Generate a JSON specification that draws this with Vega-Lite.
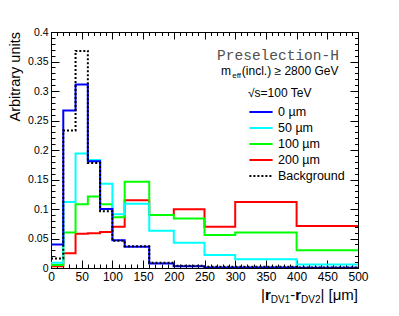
{
  "$schema": "https://vega.github.io/schema/vega-lite/v6.json",
  "width": 307,
  "height": 236,
  "autosize": "none",
  "padding": {"left": 51, "top": 32, "right": 41, "bottom": 48},
  "background": "white",
  "config": {
    "view": {"stroke": "black", "strokeWidth": 1},
    "font": "Liberation Sans",
    "axis": {"grid": false, "domain": false, "title": null, "labelFont": "Liberation Sans", "labelColor": "black", "tickColor": "black", "tickWidth": 1}
  },
  "datasets": {
    "hist": [
      {"s": "200 µm", "x": 0, "v": 0.003}, {"s": "200 µm", "x": 20, "v": 0.025}, {"s": "200 µm", "x": 40, "v": 0.058}, {"s": "200 µm", "x": 60, "v": 0.059},
      {"s": "200 µm", "x": 80, "v": 0.061}, {"s": "200 µm", "x": 100, "v": 0.070}, {"s": "200 µm", "x": 120, "v": 0.115}, {"s": "200 µm", "x": 160, "v": 0.090},
      {"s": "200 µm", "x": 200, "v": 0.0995}, {"s": "200 µm", "x": 250, "v": 0.070}, {"s": "200 µm", "x": 300, "v": 0.112}, {"s": "200 µm", "x": 400, "v": 0.071},
      {"s": "200 µm", "x": 500, "v": 0.071},
      {"s": "100 µm", "x": 0, "v": 0.005}, {"s": "100 µm", "x": 20, "v": 0.060}, {"s": "100 µm", "x": 40, "v": 0.108}, {"s": "100 µm", "x": 60, "v": 0.121},
      {"s": "100 µm", "x": 80, "v": 0.108}, {"s": "100 µm", "x": 100, "v": 0.086}, {"s": "100 µm", "x": 120, "v": 0.146}, {"s": "100 µm", "x": 160, "v": 0.090},
      {"s": "100 µm", "x": 200, "v": 0.084}, {"s": "100 µm", "x": 250, "v": 0.056}, {"s": "100 µm", "x": 300, "v": 0.060}, {"s": "100 µm", "x": 400, "v": 0.030},
      {"s": "100 µm", "x": 500, "v": 0.030},
      {"s": "50 µm", "x": 0, "v": 0.009}, {"s": "50 µm", "x": 20, "v": 0.112}, {"s": "50 µm", "x": 40, "v": 0.194}, {"s": "50 µm", "x": 60, "v": 0.183},
      {"s": "50 µm", "x": 80, "v": 0.143}, {"s": "50 µm", "x": 100, "v": 0.091}, {"s": "50 µm", "x": 120, "v": 0.109}, {"s": "50 µm", "x": 160, "v": 0.063},
      {"s": "50 µm", "x": 200, "v": 0.043}, {"s": "50 µm", "x": 250, "v": 0.022}, {"s": "50 µm", "x": 300, "v": 0.015}, {"s": "50 µm", "x": 400, "v": 0.006},
      {"s": "50 µm", "x": 500, "v": 0.006},
      {"s": "0 µm", "x": 0, "v": 0.040}, {"s": "0 µm", "x": 20, "v": 0.267}, {"s": "0 µm", "x": 40, "v": 0.311}, {"s": "0 µm", "x": 60, "v": 0.181},
      {"s": "0 µm", "x": 80, "v": 0.100}, {"s": "0 µm", "x": 100, "v": 0.047}, {"s": "0 µm", "x": 120, "v": 0.036}, {"s": "0 µm", "x": 160, "v": 0.0075},
      {"s": "0 µm", "x": 200, "v": 0.003}, {"s": "0 µm", "x": 250, "v": 0.001}, {"s": "0 µm", "x": 300, "v": 0.001}, {"s": "0 µm", "x": 400, "v": 0.0005},
      {"s": "0 µm", "x": 500, "v": 0.0005},
      {"s": "Background", "x": 0, "v": 0.016}, {"s": "Background", "x": 20, "v": 0.233}, {"s": "Background", "x": 40, "v": 0.368}, {"s": "Background", "x": 60, "v": 0.178},
      {"s": "Background", "x": 80, "v": 0.096}, {"s": "Background", "x": 100, "v": 0.046}, {"s": "Background", "x": 120, "v": 0.037}, {"s": "Background", "x": 160, "v": 0.009},
      {"s": "Background", "x": 200, "v": 0.004}, {"s": "Background", "x": 250, "v": 0.002}, {"s": "Background", "x": 300, "v": 0.002}, {"s": "Background", "x": 400, "v": 0.001},
      {"s": "Background", "x": 500, "v": 0.001}
    ]
  },
  "resolve": {"axis": {"x": "independent", "y": "independent"}},
  "layer": [
    {
      "data": {"name": "hist"},
      "mark": {"type": "line", "interpolate": "step-after", "strokeWidth": 2, "clip": true},
      "encoding": {
        "x": {"field": "x", "type": "quantitative", "scale": {"domain": [0, 500], "nice": false, "zero": false},
          "axis": {"orient": "bottom", "values": [0, 50, 100, 150, 200, 250, 300, 350, 400, 450, 500], "ticks": false, "labelFontSize": 12, "labelPadding": 3, "labelFlush": false}},
        "y": {"field": "v", "type": "quantitative", "scale": {"domain": [0, 0.4], "nice": false, "zero": false},
          "axis": {"orient": "left", "values": [0, 0.05, 0.1, 0.15, 0.2, 0.25, 0.3, 0.35, 0.4], "format": ".2~f", "ticks": false, "labelFontSize": 10.5, "labelPadding": 3, "labelFlush": false}},
        "color": {"field": "s", "type": "nominal",
          "scale": {"domain": ["0 µm", "50 µm", "100 µm", "200 µm", "Background"], "range": ["#0000ff", "#00ffff", "#00ff00", "#ff0000", "#000000"]},
          "legend": {"orient": "none", "legendX": 201, "legendY": 71, "title": null, "symbolType": "M-1.45,0H1.45", "symbolSize": 256, "symbolStrokeWidth": 2, "labelFontSize": 12.5, "labelFont": "Liberation Sans", "labelOffset": 8, "rowPadding": 0, "labelColor": "black"}},
        "strokeDash": {"field": "s", "type": "nominal",
          "scale": {"domain": ["0 µm", "50 µm", "100 µm", "200 µm", "Background"], "range": [[1, 0], [1, 0], [1, 0], [1, 0], [2, 2]]},
          "legend": {"orient": "none", "legendX": 201, "legendY": 71, "title": null, "symbolType": "M-1.45,0H1.45", "symbolSize": 256, "symbolStrokeWidth": 2, "labelFontSize": 12.5, "labelFont": "Liberation Sans", "labelOffset": 8, "rowPadding": 0, "labelColor": "black"}}
      }
    },
    {
      "data": {"values": [{}]},
      "mark": {"type": "point", "opacity": 0},
      "encoding": {
        "x": {"datum": 0, "type": "quantitative", "scale": {"domain": [0, 500], "nice": false, "zero": false},
          "axis": {"orient": "bottom", "values": [0, 50, 100, 150, 200, 250, 300, 350, 400, 450, 500], "labels": false, "tickSize": -8}},
        "y": {"datum": 0, "type": "quantitative", "scale": {"domain": [0, 0.4], "nice": false, "zero": false},
          "axis": {"orient": "left", "values": [0, 0.05, 0.1, 0.15, 0.2, 0.25, 0.3, 0.35, 0.4], "labels": false, "tickSize": -8}}
      }
    },
    {
      "data": {"values": [{}]},
      "mark": {"type": "point", "opacity": 0},
      "encoding": {
        "x": {"datum": 0, "type": "quantitative", "scale": {"domain": [0, 500], "nice": false, "zero": false},
          "axis": {"orient": "bottom", "values": [0,10,20,30,40,50,60,70,80,90,100,110,120,130,140,150,160,170,180,190,200,210,220,230,240,250,260,270,280,290,300,310,320,330,340,350,360,370,380,390,400,410,420,430,440,450,460,470,480,490,500], "labels": false, "tickSize": -4}},
        "y": {"datum": 0, "type": "quantitative", "scale": {"domain": [0, 0.4], "nice": false, "zero": false},
          "axis": {"orient": "left", "values": [0,0.01,0.02,0.03,0.04,0.05,0.06,0.07,0.08,0.09,0.1,0.11,0.12,0.13,0.14,0.15,0.16,0.17,0.18,0.19,0.2,0.21,0.22,0.23,0.24,0.25,0.26,0.27,0.28,0.29,0.3,0.31,0.32,0.33,0.34,0.35,0.36,0.37,0.38,0.39,0.4], "labels": false, "tickSize": -4}}
      }
    },
    {
      "data": {"values": [{}]},
      "mark": {"type": "point", "opacity": 0},
      "encoding": {
        "x": {"datum": 0, "type": "quantitative", "scale": {"domain": [0, 500], "nice": false, "zero": false},
          "axis": {"orient": "top", "values": [0, 50, 100, 150, 200, 250, 300, 350, 400, 450, 500], "labels": false, "tickSize": -7}},
        "y": {"datum": 0, "type": "quantitative", "scale": {"domain": [0, 0.4], "nice": false, "zero": false},
          "axis": {"orient": "right", "values": [0, 0.05, 0.1, 0.15, 0.2, 0.25, 0.3, 0.35, 0.4], "labels": false, "tickSize": -8}}
      }
    },
    {
      "data": {"values": [{}]},
      "mark": {"type": "point", "opacity": 0},
      "encoding": {
        "x": {"datum": 0, "type": "quantitative", "scale": {"domain": [0, 500], "nice": false, "zero": false},
          "axis": {"orient": "top", "values": [0,10,20,30,40,50,60,70,80,90,100,110,120,130,140,150,160,170,180,190,200,210,220,230,240,250,260,270,280,290,300,310,320,330,340,350,360,370,380,390,400,410,420,430,440,450,460,470,480,490,500], "labels": false, "tickSize": -3.5}},
        "y": {"datum": 0, "type": "quantitative", "scale": {"domain": [0, 0.4], "nice": false, "zero": false},
          "axis": {"orient": "right", "values": [0,0.01,0.02,0.03,0.04,0.05,0.06,0.07,0.08,0.09,0.1,0.11,0.12,0.13,0.14,0.15,0.16,0.17,0.18,0.19,0.2,0.21,0.22,0.23,0.24,0.25,0.26,0.27,0.28,0.29,0.3,0.31,0.32,0.33,0.34,0.35,0.36,0.37,0.38,0.39,0.4], "labels": false, "tickSize": -3.5}}
      }
    },
    {
      "data": {"values": [{}]},
      "mark": {"type": "text", "text": "Arbitrary units", "angle": 270, "align": "right", "baseline": "alphabetic", "fontSize": 14.5, "font": "Liberation Sans", "dx": 0, "dy": -31},
      "encoding": {"x": {"datum": 0, "type": "quantitative", "axis": null}, "y": {"datum": 0.4, "type": "quantitative", "axis": null}}
    },
    {
      "data": {"values": [{}]},
      "mark": {"type": "text", "text": "Preselection-H", "align": "center", "baseline": "alphabetic", "fontSize": 14.5, "font": "Liberation Mono", "color": "#505050"},
      "encoding": {"x": {"datum": 369.7, "type": "quantitative", "axis": null}, "y": {"datum": 0.3517, "type": "quantitative", "axis": null}}
    },
    {
      "data": {"values": [{}]},
      "mark": {"type": "text", "text": "m", "align": "left", "baseline": "alphabetic", "fontSize": 12, "font": "Liberation Sans"},
      "encoding": {"x": {"datum": 276.9, "type": "quantitative", "axis": null}, "y": {"datum": 0.3271, "type": "quantitative", "axis": null}}
    },
    {
      "data": {"values": [{}]},
      "mark": {"type": "text", "text": "eff", "align": "left", "baseline": "alphabetic", "fontSize": 8, "font": "Liberation Sans", "dx": 11.2, "dy": 3},
      "encoding": {"x": {"datum": 276.9, "type": "quantitative", "axis": null}, "y": {"datum": 0.3271, "type": "quantitative", "axis": null}}
    },
    {
      "data": {"values": [{}]},
      "mark": {"type": "text", "text": "(incl.) ≥ 2800 GeV", "align": "left", "baseline": "alphabetic", "fontSize": 12, "font": "Liberation Sans", "dx": 20.8},
      "encoding": {"x": {"datum": 276.9, "type": "quantitative", "axis": null}, "y": {"datum": 0.3271, "type": "quantitative", "axis": null}}
    },
    {
      "data": {"values": [{}]},
      "mark": {"type": "text", "text": "√s=100 TeV", "align": "left", "baseline": "alphabetic", "fontSize": 12, "font": "Liberation Sans"},
      "encoding": {"x": {"datum": 320.8, "type": "quantitative", "axis": null}, "y": {"datum": 0.2903, "type": "quantitative", "axis": null}}
    },
    {
      "data": {"values": [{}]},
      "mark": {"type": "text", "text": "|", "align": "left", "baseline": "alphabetic", "fontSize": 15, "font": "Liberation Sans", "dx": -97, "dy": 31.5},
      "encoding": {"x": {"datum": 500, "type": "quantitative", "axis": null}, "y": {"datum": 0, "type": "quantitative", "axis": null}}
    },
    {
      "data": {"values": [{}]},
      "mark": {"type": "text", "text": "r", "align": "left", "baseline": "alphabetic", "fontSize": 15, "fontWeight": "bold", "font": "Liberation Sans", "dx": -93.1, "dy": 31.5},
      "encoding": {"x": {"datum": 500, "type": "quantitative", "axis": null}, "y": {"datum": 0, "type": "quantitative", "axis": null}}
    },
    {
      "data": {"values": [{}]},
      "mark": {"type": "text", "text": "DV1", "align": "left", "baseline": "alphabetic", "fontSize": 10, "font": "Liberation Sans", "dx": -87.3, "dy": 35},
      "encoding": {"x": {"datum": 500, "type": "quantitative", "axis": null}, "y": {"datum": 0, "type": "quantitative", "axis": null}}
    },
    {
      "data": {"values": [{}]},
      "mark": {"type": "text", "text": "-", "align": "left", "baseline": "alphabetic", "fontSize": 15, "font": "Liberation Sans", "dx": -67.8, "dy": 31.5},
      "encoding": {"x": {"datum": 500, "type": "quantitative", "axis": null}, "y": {"datum": 0, "type": "quantitative", "axis": null}}
    },
    {
      "data": {"values": [{}]},
      "mark": {"type": "text", "text": "r", "align": "left", "baseline": "alphabetic", "fontSize": 15, "fontWeight": "bold", "font": "Liberation Sans", "dx": -62.8, "dy": 31.5},
      "encoding": {"x": {"datum": 500, "type": "quantitative", "axis": null}, "y": {"datum": 0, "type": "quantitative", "axis": null}}
    },
    {
      "data": {"values": [{}]},
      "mark": {"type": "text", "text": "DV2", "align": "left", "baseline": "alphabetic", "fontSize": 10, "font": "Liberation Sans", "dx": -57, "dy": 35},
      "encoding": {"x": {"datum": 500, "type": "quantitative", "axis": null}, "y": {"datum": 0, "type": "quantitative", "axis": null}}
    },
    {
      "data": {"values": [{}]},
      "mark": {"type": "text", "text": "| [μm]", "align": "right", "baseline": "alphabetic", "fontSize": 15, "font": "Liberation Sans", "dx": 0, "dy": 31.5},
      "encoding": {"x": {"datum": 500, "type": "quantitative", "axis": null}, "y": {"datum": 0, "type": "quantitative", "axis": null}}
    }
  ]
}
